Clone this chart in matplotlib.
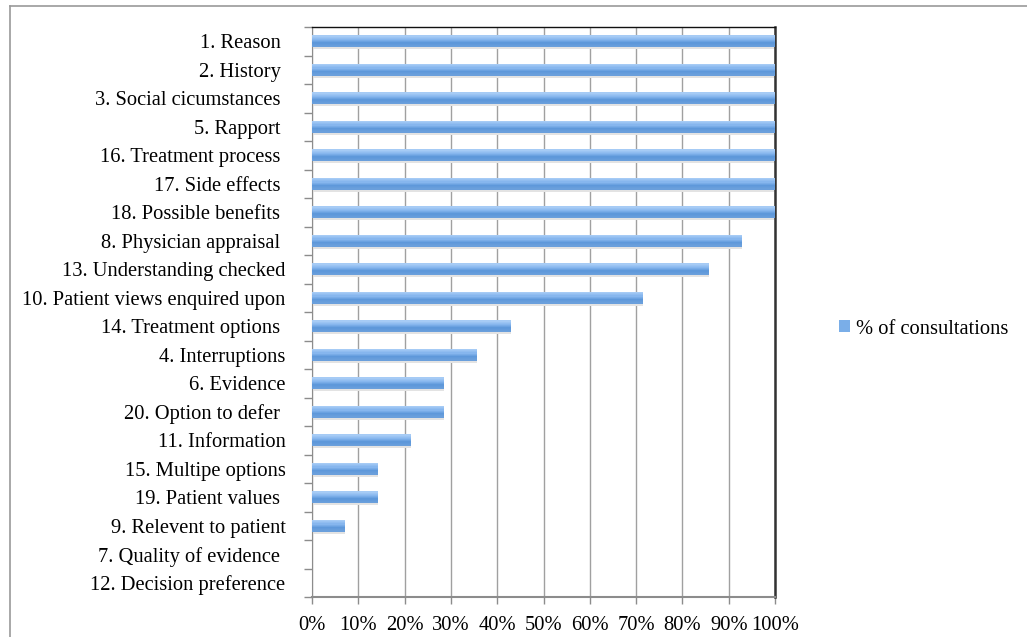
import matplotlib
matplotlib.use("Agg")
import matplotlib.pyplot as plt
import numpy as np
from matplotlib.patches import Patch
from matplotlib.lines import Line2D
from matplotlib.colors import LinearSegmentedColormap

categories = ["1. Reason ", "2. History ", "3. Social cicumstances ", "5. Rapport ",
              "16. Treatment process ", "17. Side effects ", "18. Possible benefits ",
              "8. Physician appraisal ", "13. Understanding checked",
              "10. Patient views enquired upon", "14. Treatment options ",
              "4. Interruptions", "6. Evidence", "20. Option to defer ",
              "11. Information", "15. Multipe options", "19. Patient values ",
              "9. Relevent to patient", "7. Quality of evidence ", "12. Decision preference"]
values = [1.0, 1.0, 1.0, 1.0, 1.0, 1.0, 1.0, 0.929, 0.857, 0.714, 0.429, 0.357,
          0.286, 0.286, 0.214, 0.143, 0.143, 0.071, 0.0, 0.0]
xticks = [0, 0.1, 0.2, 0.3, 0.4, 0.5, 0.6, 0.7, 0.8, 0.9, 1.0]
xticklabels = ["0%", "10%", "20%", "30%", "40%", "50%", "60%", "70%", "80%", "90%", "100%"]
series_name = "% of consultations"

plt.rcParams['font.family'] = ['Liberation Serif', 'DejaVu Serif']
FS = 14.8

fig = plt.figure(figsize=(10.27, 6.37), dpi=100)
ax = fig.add_axes([312/1027, 1 - 597/637, 463/1027, 570/637])

n = len(categories)
y = np.arange(n)
bh = 0.41
cmap = LinearSegmentedColormap.from_list("g", ["#a6cbf5", "#86b6ee", "#5e98da", "#6a9fdc"])
nslices = 10
sh = bh / nslices
for k in range(nslices):
    offset = -bh / 2 + sh * (k + 0.5)
    ax.barh(y + offset, values, height=sh * 1.05, color=cmap(k / (nslices - 1)),
            edgecolor="none", linewidth=0, antialiased=False, zorder=3)
# faint shadow below bars
ax.barh(y + bh / 2 + 0.035, values, height=0.07, color="#e3e3e3", edgecolor="none",
        linewidth=0, zorder=2)

ax.set_ylim(n - 0.5, -0.5)
ax.set_xlim(0, 1.0)
ax.set_yticks(y)
ax.set_yticklabels(categories, fontsize=FS)
ax.set_yticks(np.arange(n + 1) - 0.5, minor=True)
ax.tick_params(axis='y', which='major', length=0, pad=19)
ax.tick_params(axis='y', which='minor', length=6, color="#8c8c8c", width=1)
ax.set_xticks(xticks)
ax.set_xticklabels(xticklabels, fontsize=FS)
ax.tick_params(axis='x', which='major', length=5, color="#8c8c8c", width=1, pad=9)

ax.grid(axis='x', color="#a0a0a0", linewidth=1.0, zorder=0)
ax.set_axisbelow(True)
ax.spines['left'].set_color("#8c8c8c")
ax.spines['bottom'].set_color("#8c8c8c")
ax.spines['bottom'].set_linewidth(1.5)
ax.spines['top'].set_color("#111111")
ax.spines['top'].set_linewidth(1.0)
ax.spines['right'].set_color("#333333")
ax.spines['right'].set_linewidth(1.8)

handle = Patch(facecolor="#7aaee8", edgecolor="none")
fig.legend([handle], [series_name], loc='center left',
           bbox_to_anchor=(820/1027, 1 - 329/637), frameon=False, fontsize=FS,
           handlelength=0.55, handleheight=0.55, handletextpad=0.3)

# outer border (left and top)
fig.add_artist(Line2D([10/1027, 10/1027], [0, 1 - 6/637], transform=fig.transFigure,
                      color="#9a9a9a", linewidth=1.2))
fig.add_artist(Line2D([10/1027, 1], [1 - 6/637, 1 - 6/637], transform=fig.transFigure,
                      color="#9a9a9a", linewidth=1.2))

fig.savefig("out.png", dpi=100)
